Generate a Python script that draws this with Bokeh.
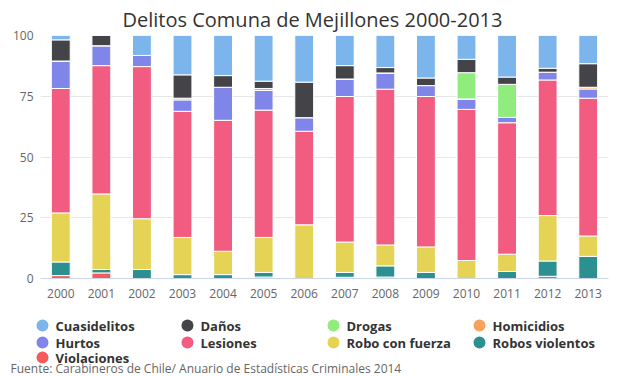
from bokeh.plotting import figure
from bokeh.layouts import column
from bokeh.models import FactorRange, Range1d, FixedTicker, ColumnDataSource
from bokeh.core.properties import value
from bokeh.embed import file_html
from bokeh.resources import INLINE

# ---------------- data (percent of crimes per year) ----------------
years = ["2000", "2001", "2002", "2003", "2004", "2005", "2006",
         "2007", "2008", "2009", "2010", "2011", "2012", "2013"]

cuasidelitos    = [1.8, 0.0, 8.2, 16.2, 16.5, 18.8, 19.2, 12.4, 13.2, 17.5, 9.8, 17.1, 13.5, 11.6]
danos           = [8.7, 4.2, 0.0, 9.6, 4.8, 3.0, 14.6, 5.5, 2.2, 3.1, 5.5, 3.0, 1.6, 9.7]
drogas          = [0.0, 0.0, 0.0, 0.0, 0.0, 0.0, 0.0, 0.0, 0.0, 0.0, 10.8, 13.6, 0.0, 0.0]
homicidios      = [0.0, 0.0, 0.0, 0.7, 0.0, 0.8, 0.0, 0.0, 0.0, 0.0, 0.0, 0.0, 0.0, 0.7]
hurtos          = [11.3, 8.2, 4.6, 4.7, 13.6, 8.1, 5.6, 7.2, 6.7, 4.5, 4.3, 2.2, 3.2, 3.8]
lesiones        = [51.2, 52.8, 62.6, 51.9, 53.9, 52.4, 38.5, 59.9, 64.1, 61.9, 62.2, 54.1, 55.8, 56.7]
robo_con_fuerza = [20.2, 31.1, 20.9, 15.3, 9.6, 14.4, 22.1, 12.5, 8.6, 10.5, 7.4, 7.1, 18.7, 8.4]
robos_violentos = [5.6, 1.4, 3.7, 1.6, 1.6, 1.9, 0.0, 2.0, 4.6, 2.5, 0.0, 2.9, 6.3, 9.1]
violaciones     = [1.2, 2.3, 0.0, 0.0, 0.0, 0.6, 0.0, 0.5, 0.6, 0.0, 0.0, 0.0, 0.9, 0.0]

series_labels = ["Cuasidelitos", "Daños", "Drogas", "Homicidios", "Hurtos",
                 "Lesiones", "Robo con fuerza", "Robos violentos", "Violaciones"]
series_colors = ["#7cb5ec", "#434348", "#90ed7d", "#f7a35c", "#8085e9",
                 "#f15c80", "#e4d354", "#2b908f", "#f45b5b"]
y_ticks = [0, 25, 50, 75, 100]

title_text = "Delitos Comuna de Mejillones 2000-2013"
source_text = "Fuente: Carabineros de Chile/ Anuario de Estadísticas Criminales 2014"

FONT = "Open Sans"

# ---------------- source ----------------
keys = ["cuasidelitos", "danos", "drogas", "homicidios", "hurtos",
        "lesiones", "robo_con_fuerza", "robos_violentos", "violaciones"]
values = [cuasidelitos, danos, drogas, homicidios, hurtos,
          lesiones, robo_con_fuerza, robos_violentos, violaciones]
data = {"year": years}
for k, v in zip(keys, values):
    data[k] = v
src = ColumnDataSource(data)

# ---------------- chart figure ----------------
p = figure(x_range=FactorRange(factors=years, range_padding=0),
           y_range=Range1d(0, 100),
           width=611, height=305,
           output_backend="svg", toolbar_location=None,
           min_border_left=40, min_border_right=3,
           min_border_top=34, min_border_bottom=27,
           background_fill_color="white", border_fill_color="white")
p.outline_line_color = None
p.frame_align = False

p.title.text = title_text
p.title.text_font = FONT
p.title.text_font_size = "20px"
p.title.text_font_style = "normal"
p.title.text_color = "#333333"
p.title.align = "left"
p.title.offset = 82
p.title.standoff = 6

# stacked bars: bottom series first
p.vbar_stack(stackers=keys[::-1], x="year", width=0.465, source=src,
             fill_color=series_colors[::-1], line_color="white", line_width=1)

# axes
p.yaxis.ticker = FixedTicker(ticks=y_ticks)
p.yaxis.axis_line_color = None
p.yaxis.major_tick_line_color = None
p.yaxis.minor_tick_line_color = None
p.yaxis.major_label_text_font = FONT
p.yaxis.major_label_text_font_size = "12px"
p.yaxis.major_label_text_color = "#666666"
p.yaxis.major_label_standoff = 1

p.xaxis.axis_line_color = "#ccd6eb"
p.xaxis.major_tick_line_color = None
p.xaxis.minor_tick_line_color = None
p.xaxis.major_label_text_font = FONT
p.xaxis.major_label_text_font_size = "12px"
p.xaxis.major_label_text_color = "#666666"
p.xaxis.major_label_standoff = 4

p.xgrid.grid_line_color = None
p.ygrid.grid_line_color = "#e6e6e6"
p.ygrid.ticker = FixedTicker(ticks=y_ticks)

# ---------------- legend + source figure (pixel coordinates, y down) ----------------
LW, LH = 611, 71
q = figure(x_range=Range1d(0, LW), y_range=Range1d(LH, 0),
           width=LW, height=LH, output_backend="svg", toolbar_location=None,
           x_axis_location=None, y_axis_location=None,
           min_border=0, min_border_left=0, min_border_right=0,
           min_border_top=0, min_border_bottom=0,
           background_fill_color="white", border_fill_color="white")
q.outline_line_color = None
q.grid.visible = False
q.frame_align = False

col_circle = [42, 187, 333, 479]
col_text = [55, 200, 346, 492]
row_y = [20, 37, 52]
leg = {"cx": [], "tx": [], "y": [], "label": [], "color": []}
for i, (lab, col) in enumerate(zip(series_labels, series_colors)):
    r, c = divmod(i, 4)
    leg["cx"].append(col_circle[c])
    leg["tx"].append(col_text[c])
    leg["y"].append(row_y[r])
    leg["label"].append(lab)
    leg["color"].append(col)
lsrc = ColumnDataSource(leg)
q.scatter(x="cx", y="y", size=12, fill_color="color", line_color=None, source=lsrc)
q.text(x="tx", y="y", text="label", source=lsrc, text_font=value(FONT),
       text_font_size="13px", text_font_style="bold", text_color="#333333",
       text_baseline="middle", text_align="left")

q.text(x=[10], y=[63], text=[source_text], text_font=value(FONT),
       text_font_size="12px", text_color="#666666",
       text_baseline="alphabetic", text_align="left")

layout = column(p, q, spacing=0)

open("out.html", "w").write(file_html(layout, INLINE))
